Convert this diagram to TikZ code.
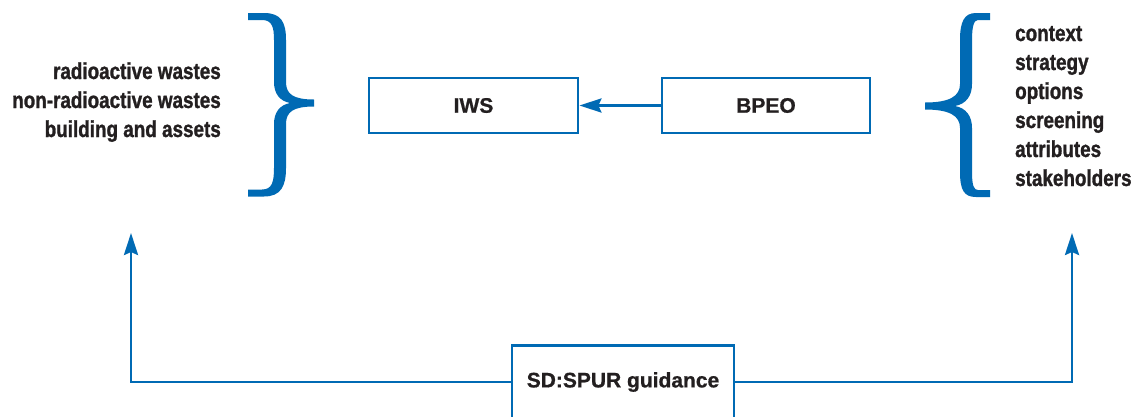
\documentclass[tikz,border=0pt]{standalone}
\usepackage{fontspec}
\setmainfont{Liberation Sans}
\newfontfamily\condfont{Liberation Sans}[FakeStretch=0.82,FakeBold=1.2]
\newfontfamily\boxfont{Liberation Sans}[FakeBold=0.8]
\usetikzlibrary{arrows.meta}
\definecolor{dblue}{RGB}{0,106,180}
\definecolor{ink}{RGB}{35,31,32}
\begin{document}
\begin{tikzpicture}[x=1pt,y=-1pt,
  box/.style={draw=dblue, line width=2.8pt, rectangle, inner sep=0pt,
    font=\boxfont\fontsize{21}{25}\selectfont\bfseries, text=ink},
  conn/.style={draw=dblue, line width=2.8pt},
  tip/.style={-{Stealth[length=22pt,width=14pt,inset=3pt]}},
  bracefill/.style={fill=dblue, draw=none},
  side/.style={font=\condfont\fontsize{23}{29}\selectfont\bfseries,
    text=ink, inner sep=0pt}]
\clip (0,0) rectangle (1142,416);
\fill[white] (0,0) rectangle (1142,416);

% boxes
\node[box, minimum width=209pt, minimum height=55pt] (iws) at (473.5,105.5) {IWS};
\node[box, minimum width=208pt, minimum height=55pt] (bpeo) at (766,105.5) {BPEO};
\node[box, minimum width=222pt, minimum height=73.5pt] (sd) at (623,382) {SD:SPUR guidance};

% side texts
\node[side, align=right, anchor=east] (lefttext) at (221,102.2)
  {\strut radioactive wastes\\ \strut non-radioactive wastes\\ \strut building and assets};
\node[side, align=left, anchor=west] (righttext) at (1015,107.7)
  {\strut context\\ \strut strategy\\ \strut options\\ \strut screening\\ \strut attributes\\ \strut stakeholders};

% braces
\path[bracefill] (248,13) -- (264,13) .. controls (281,13) and (286,22) .. (286,40)
  -- (286,82) .. controls (286,94) and (293,99.5) .. (314,99.5)
  -- (314,106.5) .. controls (293,106.5) and (286,112) .. (286,124)
  -- (286,168) .. controls (286,186) and (281,196.5) .. (264,196.5)
  -- (248,196.5) -- (248,189.5) -- (262,189.5)
  .. controls (272,189.5) and (274,182) .. (274,168)
  -- (274,124) .. controls (274,112) and (280,105) .. (290,103)
  .. controls (280,101) and (274,94) .. (274,82)
  -- (274,40) .. controls (274,27) and (272,20) .. (262,20)
  -- (248,20) -- cycle;
\path[bracefill] (990,13) -- (976,13) .. controls (964,13) and (960,22) .. (960,40)
  -- (960,84) .. controls (960,96) and (950,102.5) .. (925,102.5)
  -- (925,109.5) .. controls (950,109.5) and (960,116) .. (960,128)
  -- (960,172) .. controls (960,190) and (964,197) .. (976,197)
  -- (990,197) -- (990,190) -- (978,190)
  .. controls (974,190) and (972,186) .. (972,172)
  -- (972,128) .. controls (972,116) and (966,108) .. (955,106)
  .. controls (966,104) and (972,96) .. (972,84)
  -- (972,40) .. controls (972,26) and (974,20) .. (978,20)
  -- (990,20) -- cycle;

% connectors
\coordinate (lt) at (131,233);
\coordinate (rt) at (1072,233);
\draw[conn, tip] (bpeo.west) -- (iws.east);
\draw[conn, tip] (sd.west) -| (lt);
\draw[conn, tip] (sd.east) -| (rt);
\end{tikzpicture}
\end{document}
